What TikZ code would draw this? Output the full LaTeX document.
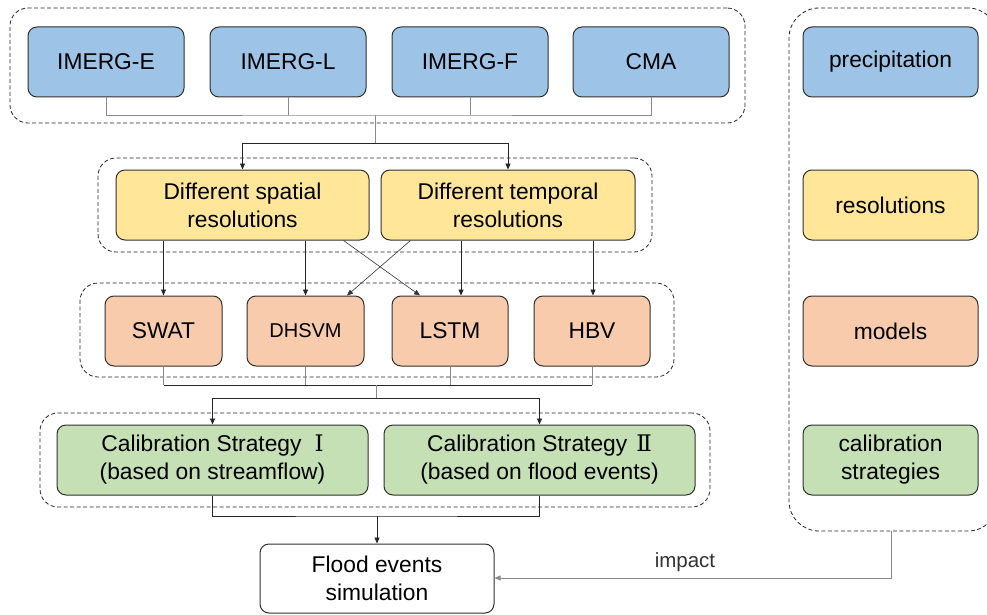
\documentclass[tikz,border=0pt]{standalone}
\usepackage{fontspec}
\setmainfont{Liberation Sans}
\newfontfamily\numfont{DejaVu Serif}
\usetikzlibrary{arrows.meta,calc}
\definecolor{cblue}{HTML}{9DC3E6}
\definecolor{cyellow}{HTML}{FFE699}
\definecolor{corange}{HTML}{F8CBAD}
\definecolor{cgreen}{HTML}{C5E0B4}
\definecolor{boxline}{HTML}{303030}
\definecolor{feedgray}{HTML}{8A8A8A}
\begin{document}
\begin{tikzpicture}[x=1pt,y=-1pt,
  box/.style={draw=boxline, line width=1pt, rounded corners=9pt, align=center,
    font=\fontsize{22.8}{28}\selectfont, inner sep=0pt},
  sz/.style 2 args={minimum width=#1, minimum height=#2},
  group/.style={draw=black!85, dashed, dash pattern=on 4pt off 2.5pt, line width=0.8pt, rounded corners=18pt, inner sep=0pt},
  feed/.style={draw=feedgray, line width=0.7pt},
  bus/.style={draw=black!85, line width=0.9pt},
  arr/.style={draw=black!85, line width=0.9pt, -{Triangle[length=6pt,width=5pt]}},
  thinarr/.style={draw=black!80, line width=0.6pt, -{Triangle[length=6pt,width=5pt]}},
  grayarr/.style={draw=feedgray, line width=0.8pt, -{Triangle[length=6pt,width=5pt]}},
]
\useasboundingbox (0,0) rectangle (987,615);

% dashed groups
\node[group, sz={735}{115}] (g1) at (377.5,65.5) {};
\node[group, sz={554}{94}] (g2) at (375,205) {};
\node[group, sz={594}{94}] (g3) at (377,330) {};
\node[group, sz={670}{94}] (g4) at (375,460) {};
\node[group, sz={209}{523}, rounded corners=30pt] (leg) at (893.5,269.5) {};

% precipitation products
\node[box, fill=cblue, sz={156}{70}] (e) at (106,62) {IMERG-E};
\node[box, fill=cblue, sz={156}{70}] (l) at (288,62) {IMERG-L};
\node[box, fill=cblue, sz={156}{70}] (f) at (470,62) {IMERG-F};
\node[box, fill=cblue, sz={156}{70}] (cma) at (651,62) {CMA};

% resolutions
\node[box, fill=cyellow, sz={253}{70}] (sp) at (242.5,205) {Different spatial\\resolutions};
\node[box, fill=cyellow, sz={254}{70}] (tp) at (508,205) {Different temporal\\resolutions};

% models
\node[box, fill=corange, sz={117}{70}] (swat) at (163.5,331) {SWAT};
\node[box, fill=corange, sz={117}{70}, font=\fontsize{20}{24}\selectfont] (dhsvm) at (305.5,331) {DHSVM};
\node[box, fill=corange, sz={116}{70}] (lstm) at (450,331) {LSTM};
\node[box, fill=corange, sz={116}{70}] (hbv) at (592,331) {HBV};

% calibration
\node[box, fill=cgreen, sz={311}{70}] (c1) at (212.5,460) {Calibration Strategy\hspace{13pt}{\numfont Ⅰ}\\(based on streamflow)};
\node[box, fill=cgreen, sz={311}{70}] (c2) at (539.5,460) {Calibration Strategy\hspace{9pt}{\numfont Ⅱ}\\(based on flood events)};

% output
\node[box, fill=white, sz={234}{69}] (flood) at (377,578.5) {Flood events\\simulation};

% legend
\node[box, fill=cblue, sz={175}{70}] (lp) at (890.5,62) {precipitation};
\node[box, fill=cyellow, sz={175}{70}] (lr) at (890.5,205) {resolutions};
\node[box, fill=corange, sz={175}{70}] (lm) at (890.5,331) {models};
\node[box, fill=cgreen, sz={175}{70}] (lc) at (890.5,460) {calibration\\strategies};

% products -> resolutions
\coordinate (j1) at (375,115);
\coordinate (j2) at (375,143);
\draw[feed] (e.south) |- (j1) -| (cma.south);
\draw[feed] (l.south) -- (l.south |- j1);
\draw[feed] (f.south) -- (f.south |- j1);
\draw[feed] (j1) -- (j2);
\draw[bus] (sp.north |- j2) -- (tp.north |- j2);
\draw[arr] (sp.north |- j2) -- (sp.north);
\draw[arr] (tp.north |- j2) -- (tp.north);

% resolutions -> models
\draw[arr] (sp.south -| swat.north) -- (swat.north);
\draw[arr] (sp.south -| dhsvm.north) -- (dhsvm.north);
\draw[thinarr] ($(sp.south east)+(-26,0)$) -- ($(lstm.north)+(-30,0)$);
\draw[thinarr] ($(tp.south west)+(30,0)$) -- ($(dhsvm.north)+(41.5,0)$);
\draw[arr] ($(tp.south)+(-47,0)$) -- ($(lstm.north)+(11,0)$);
\draw[arr] ($(tp.south)+(85,0)$) -- ($(hbv.north)+(1,0)$);

% models -> calibration
\coordinate (j3) at (376,385);
\coordinate (j4) at (376,398);
\draw[feed] (swat.south) -- (swat.south |- j3);
\draw[feed] (dhsvm.south) -- (dhsvm.south |- j3);
\draw[feed] (lstm.south) -- (lstm.south |- j3);
\draw[feed] (hbv.south) -- (hbv.south |- j3);
\draw[bus] (swat.south |- j3) -- (hbv.south |- j3);
\draw[feed] (j3) -- (j4);
\draw[bus] (c1.north |- j4) -- (c2.north |- j4);
\draw[arr] (c1.north |- j4) -- (c1.north);
\draw[arr] (c2.north |- j4) -- (c2.north);

% calibration -> flood
\coordinate (j5) at (377,516);
\draw[bus] (c1.south) |- (j5) -| (c2.south);
\draw[arr] (j5) -- (flood.north);

% impact
\coordinate (j6) at (891,578);
\draw[grayarr] (leg.south -| j6) -- (j6) -- (flood.east |- j6);
\node[font=\fontsize{20.5}{24}\selectfont, text=black!80] (imp) at (685,562) {impact};
\end{tikzpicture}
\end{document}
